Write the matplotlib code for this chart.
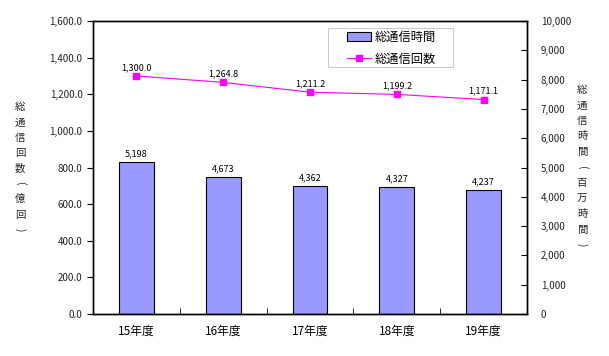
import matplotlib
matplotlib.use("Agg")
import matplotlib.pyplot as plt
from matplotlib.patches import Rectangle
import numpy as np

plt.rcParams['font.family'] = ['Noto Sans CJK JP', 'DejaVu Sans']

categories = ['15年度', '16年度', '17年度', '18年度', '19年度']
time_vals = [5198, 4673, 4362, 4327, 4237]          # 総通信時間 (百万時間), right axis
count_vals = [1300.0, 1264.8, 1211.2, 1199.2, 1171.1]  # 総通信回数 (億回), left axis
left_ticks = [0, 200, 400, 600, 800, 1000, 1200, 1400, 1600]
right_ticks = [0, 1000, 2000, 3000, 4000, 5000, 6000, 7000, 8000, 9000, 10000]
left_label = '総通信回数(億回)'
right_label = '総通信時間(百万時間)'

W, H = 609, 356
fig = plt.figure(figsize=(W/100, H/100), dpi=100)
ax = fig.add_axes([93/W, 1-314/H, (527-93)/W, (314-21)/H])
ax2 = ax.twinx()

x = np.arange(len(categories))
bars = ax2.bar(x, time_vals, width=0.4, color='#9999FF', edgecolor='black', linewidth=0.8,
               label='総通信時間', zorder=2)
ax2.set_ylim(0, 10000)
ax2.set_yticks(right_ticks)
ax2.set_yticklabels([f'{v:,}' for v in right_ticks], fontsize=7, color='#222222')
ax2.tick_params(axis='y', direction='in', length=4, pad=10)

for xi, v in zip(x, time_vals):
    ax2.text(xi, v + 120, f'{v:,}', ha='center', va='bottom', fontsize=6.5)

ax.set_zorder(ax2.get_zorder() + 1)
ax.patch.set_visible(False)
ln, = ax.plot(x, count_vals, color='#FF00FF', marker='s', markersize=4.5, linewidth=0.8,
              label='総通信回数', zorder=3)
for xi, v in zip(x, count_vals):
    ax.text(xi, v + 22, f'{v:,.1f}', ha='center', va='bottom', fontsize=6.5)

ax.set_ylim(0, 1600)
ax.set_yticks(left_ticks)
ax.set_yticklabels([f'{v:,.1f}' for v in left_ticks], fontsize=7, color='#222222')
ax.tick_params(axis='y', direction='out', length=4)
ax.set_xlim(-0.5, len(categories) - 0.5)
ax.set_xticks(x)
ax.set_xticklabels(categories, fontsize=8.5)
ax.tick_params(axis='x', length=0, pad=8)
ax.set_xticks(np.arange(0.5, len(categories) - 0.5, 1), minor=True)
ax.tick_params(axis='x', which='minor', direction='in', length=4)
ax2.tick_params(axis='x', length=0)

for a in (ax, ax2):
    for s in a.spines.values():
        s.set_linewidth(1.0)

def vlabel(text, xpix, ytop, step):
    for i, ch in enumerate(text):
        rot = -90 if ch in '()' else 0
        fig.text(xpix/W, 1-(ytop + i*step)/H, ch, ha='center', va='center',
                 fontsize=7.5, rotation=rot, color='#222222')

vlabel(left_label, 20, 107, 15.4)
vlabel(right_label, 582, 90, 15.5)

# legend frame
fig.patches.append(Rectangle((328/W, 1-67/H), 125/W, 39/H, transform=fig.transFigure,
                             facecolor='white', edgecolor='#C8C8C8', linewidth=0.7, zorder=5))
leg = fig.legend([bars, ln], ['総通信時間', '総通信回数'], loc='upper left',
                 bbox_to_anchor=(347/W, 1-31/H), fontsize=8.8, frameon=False,
                 handlelength=2.0, handletextpad=0.3, borderpad=0, borderaxespad=0,
                 labelspacing=0.7)
leg.set_zorder(6)

fig.savefig('out.png', dpi=100)
